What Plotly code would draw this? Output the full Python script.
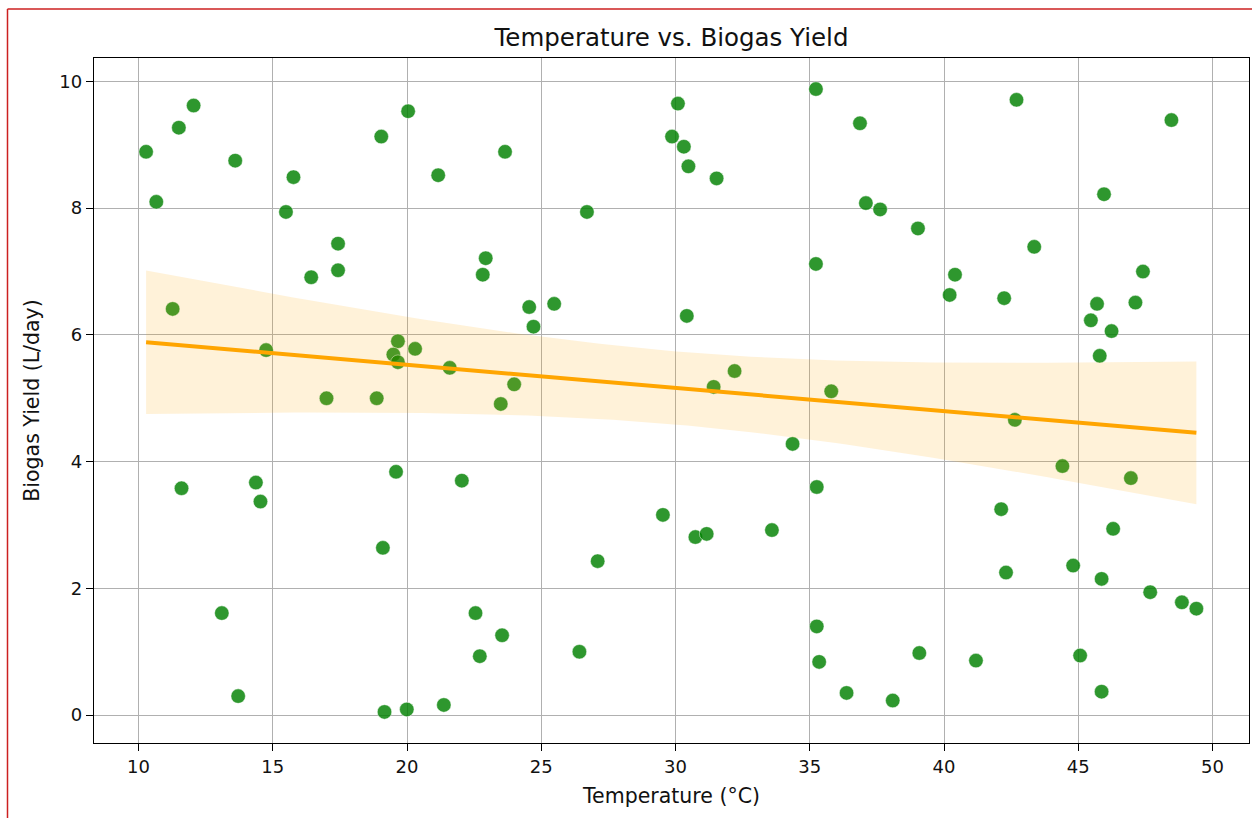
import numpy as np
import plotly.graph_objects as go

# ---- data ----
temperature = [
    10.28, 10.66, 11.50, 12.05, 11.27, 13.60, 15.49, 15.77, 16.43, 17.43,
    17.43, 14.75, 17.00, 18.87, 19.04, 20.04, 19.66, 19.49, 19.66, 20.30,
    23.65, 21.16, 22.93, 22.82, 24.55, 24.71, 25.48, 26.70, 30.09, 29.87,
    30.31, 30.48, 31.53, 30.42, 35.23, 35.23, 21.59, 23.99, 23.49, 31.42,
    32.20, 36.87, 37.09, 37.62, 39.03, 42.70, 48.47, 45.96, 43.36, 40.41,
    40.21, 42.24, 47.41, 47.13, 45.70, 45.47, 46.24, 45.80, 35.80, 11.60,
    14.37, 14.54, 13.10, 13.71, 19.10, 19.59, 19.16, 19.99, 21.37, 22.04,
    22.55, 23.54, 22.71, 26.42, 27.10, 29.53, 30.74, 31.16, 33.59, 34.36,
    35.26, 35.26, 35.35, 42.64, 44.41, 46.96, 42.13, 46.30, 44.81, 42.31,
    45.87, 47.68, 48.86, 49.40, 39.08, 41.19, 45.07, 45.87, 36.37, 38.09,
]
biogas_yield = [
    8.89, 8.10, 9.27, 9.62, 6.41, 8.75, 7.94, 8.49, 6.91, 7.44,
    7.02, 5.76, 5.00, 5.00, 9.13, 9.53, 5.90, 5.69, 5.57, 5.78,
    8.89, 8.52, 7.21, 6.95, 6.44, 6.13, 6.49, 7.94, 9.65, 9.13,
    8.97, 8.66, 8.47, 6.30, 9.88, 7.12, 5.48, 5.22, 4.91, 5.18,
    5.43, 9.34, 8.08, 7.98, 7.68, 9.71, 9.39, 8.22, 7.39, 6.95,
    6.63, 6.58, 7.00, 6.51, 6.49, 6.23, 6.06, 5.67, 5.11, 3.58,
    3.67, 3.37, 1.61, 0.30, 2.64, 3.84, 0.05, 0.09, 0.16, 3.70,
    1.61, 1.26, 0.93, 1.00, 2.43, 3.16, 2.81, 2.86, 2.92, 4.28,
    3.60, 1.40, 0.84, 4.66, 3.93, 3.74, 3.25, 2.94, 2.36, 2.25,
    2.15, 1.94, 1.78, 1.68, 0.98, 0.86, 0.94, 0.37, 0.35, 0.23,
]
x_ticks = [10, 15, 20, 25, 30, 35, 40, 45, 50]
y_ticks = [0, 2, 4, 6, 8, 10]

title_text = "Temperature vs. Biogas Yield"
x_label = "Temperature (°C)"
y_label = "Biogas Yield (L/day)"

# ---- linear regression with 95% confidence band ----
x = np.array(temperature)
y = np.array(biogas_yield)
n = len(x)
slope, intercept = np.polyfit(x, y, 1)
resid = y - (slope * x + intercept)
s = np.sqrt(np.sum(resid ** 2) / (n - 2))
sxx = np.sum((x - x.mean()) ** 2)
t_val = 1.9845
xg = np.linspace(x.min(), x.max(), 100)
yg = slope * xg + intercept
se = s * np.sqrt(1.0 / n + (xg - x.mean()) ** 2 / sxx)
upper = yg + t_val * se
lower = yg - t_val * se

font_family = "DejaVu Sans"
text_color = "#111111"

fig = go.Figure()
fig.add_trace(go.Scatter(
    x=temperature, y=biogas_yield, mode="markers",
    marker=dict(size=14.5, color="rgba(0,128,0,0.82)",
                line=dict(color="rgba(255,255,255,0.8)", width=0.6)),
    showlegend=False, hoverinfo="x+y",
))
fig.add_trace(go.Scatter(
    x=xg, y=lower, mode="lines", line=dict(width=0),
    showlegend=False, hoverinfo="skip",
))
fig.add_trace(go.Scatter(
    x=xg, y=upper, mode="lines", line=dict(width=0),
    fill="tonexty", fillcolor="rgba(255,165,0,0.15)",
    showlegend=False, hoverinfo="skip",
))
fig.add_trace(go.Scatter(
    x=xg, y=yg, mode="lines", line=dict(color="orange", width=4),
    showlegend=False,
))

L, R, T, B = 94, 3, 58, 75
W, H = 1252, 818
pw, ph = W - L - R, H - T - B

def px_to_paper_x(px):
    return (px - L) / pw

def px_to_paper_y(py):
    return (H - B - py) / ph

axis_common = dict(
    showline=True, mirror=True, linecolor="black", linewidth=1.3,
    ticks="outside", ticklen=7, tickcolor="black", tickwidth=1.3,
    showgrid=True, gridcolor="#b0b0b0", gridwidth=1.3, zeroline=False,
    tickfont=dict(family=font_family, size=18, color=text_color),
    automargin=False,
)

fig.update_layout(
    width=W, height=H,
    margin=dict(l=L, r=R, t=T, b=B),
    paper_bgcolor="white", plot_bgcolor="white",
    title=dict(text=title_text, x=0.5 + (L - R) / 2 / W, xref="container",
               xanchor="center",
               y=1 - 37 / H, yref="container", yanchor="middle",
               font=dict(family=font_family, size=24.5, color=text_color)),
    xaxis=dict(range=[8.34, 51.36], tickvals=x_ticks,
               title=dict(text=x_label, standoff=12,
                          font=dict(family=font_family, size=20.5, color=text_color)),
               **axis_common),
    yaxis=dict(range=[-0.44, 10.37], tickvals=y_ticks,
               title=dict(text=y_label, standoff=14,
                          font=dict(family=font_family, size=20.5, color=text_color)),
               **axis_common),
    font=dict(family=font_family),
)

# red frame around the figure (top and left edges visible in the reference)
fig.add_shape(type="line", xref="paper", yref="paper",
              x0=px_to_paper_x(7.5), x1=px_to_paper_x(1260),
              y0=px_to_paper_y(9), y1=px_to_paper_y(9),
              line=dict(color="#cc2020", width=1.5))
fig.add_shape(type="line", xref="paper", yref="paper",
              x0=px_to_paper_x(7.5), x1=px_to_paper_x(7.5),
              y0=px_to_paper_y(9), y1=px_to_paper_y(830),
              line=dict(color="#cc2020", width=1.5))

fig.write_html("out.html")
